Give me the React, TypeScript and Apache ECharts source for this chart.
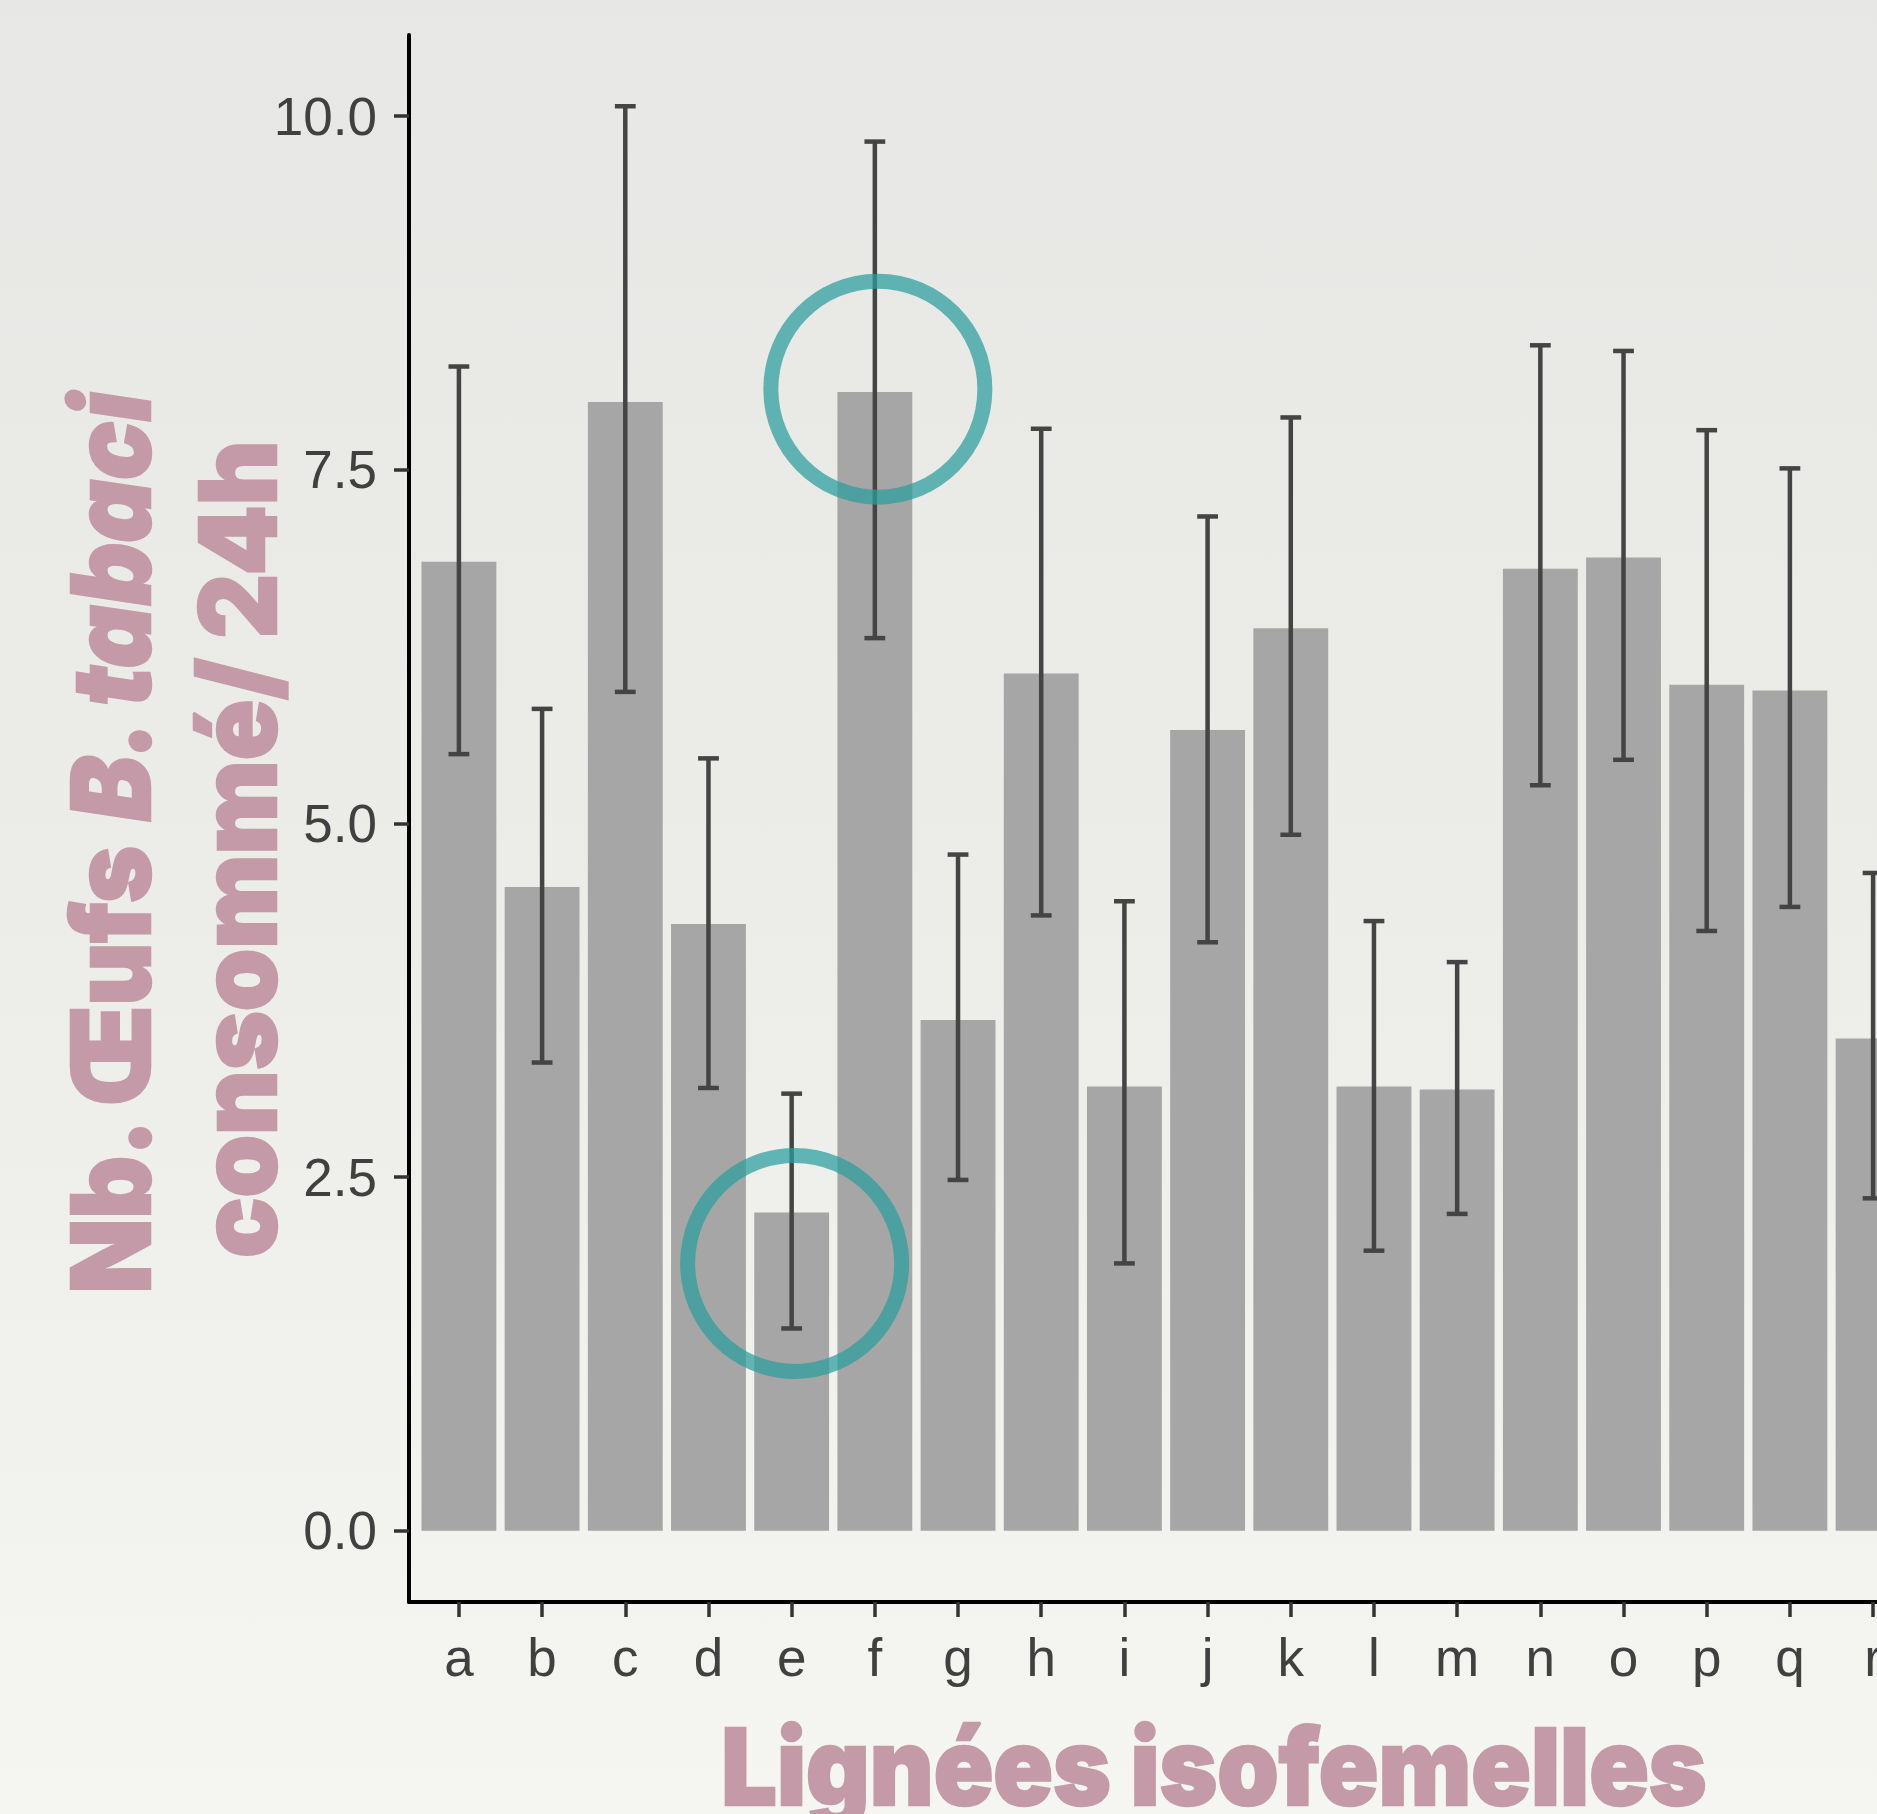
import React, { useEffect, useRef } from "react";
import * as echarts from "echarts";

// ---- data ----
const categories = ["a", "b", "c", "d", "e", "f", "g", "h", "i", "j", "k", "l", "m", "n", "o", "p", "q", "r"];
const means = [6.85, 4.55, 7.98, 4.29, 2.25, 8.05, 3.61, 6.06, 3.14, 5.66, 6.38, 3.14, 3.12, 6.8, 6.88, 5.98, 5.94, 3.48];
const upper = [8.23, 5.81, 10.07, 5.46, 3.09, 9.82, 4.78, 7.79, 4.45, 7.17, 7.87, 4.31, 4.02, 8.38, 8.34, 7.78, 7.51, 4.65];
const lower = [5.49, 3.31, 5.93, 3.13, 1.43, 6.31, 2.48, 4.35, 1.89, 4.16, 4.92, 1.98, 2.24, 5.27, 5.45, 4.24, 4.41, 2.35];
const yTicks = [0, 2.5, 5, 7.5, 10];
const annotatedCats = ["e", "f"];
const annotatedY = [1.89, 8.07];

const xTitle = "Lignées isofemelles";
const yTitleA = "Nb. Œufs ";
const yTitleB = "B. tabaci";
const yTitle2 = "consommé/ 24h";

const TITLE_COLOR = "#C49AA8";
const TITLE_FONT = "Inter, Roboto, 'DejaVu Sans', sans-serif";
const TICK_FONT = "'Liberation Sans', Arial, sans-serif";
const TITLE_STROKE = 2.5;

function measure(text: string, font: string): number {
  const c = document.createElement("canvas").getContext("2d");
  if (!c) return text.length * 50;
  c.font = font;
  const m = c.measureText(text);
  const g = (m.actualBoundingBoxLeft || 0) + (m.actualBoundingBoxRight || 0);
  return g > 0 ? g : m.width;
}
function advance(text: string, font: string): number {
  const c = document.createElement("canvas").getContext("2d");
  if (!c) return text.length * 50;
  c.font = font;
  return c.measureText(text).width;
}

export default function App() {
  const ref = useRef<HTMLDivElement>(null);

  useEffect(() => {
    if (!ref.current) return;
    const chart = echarts.init(ref.current, undefined, { renderer: "svg" });

    const n = categories.length;
    const yMaxData = Math.max(...upper);
    const pad = 0.05 * yMaxData;
    const BAR_W = 0.9;
    const CAP_W = 0.25;

    const barData = categories.map((_, i) => [i + 1, means[i]]);
    const errData = categories.map((_, i) => [i + 1, lower[i], upper[i]]);

    chart.setOption({
      animation: false,
      backgroundColor: new echarts.graphic.LinearGradient(0, 0, 0, 1, [
        { offset: 0, color: "#E7E7E5" },
        { offset: 0.5, color: "#ECECE9" },
        { offset: 1, color: "#F5F6F1" },
      ]),
      grid: { left: 409, top: 35, right: 37, bottom: 212, containLabel: false },
      xAxis: {
        type: "value",
        min: 0.4,
        max: n + 0.6,
        splitLine: { show: false },
        axisLine: { show: true, onZero: false, lineStyle: { color: "#000", width: 4 } },
        axisTick: {
          show: true,
          length: 15,
          customValues: categories.map((_, i) => i + 1),
          lineStyle: { color: "#333", width: 3.5 },
        },
        axisLabel: {
          show: true,
          customValues: categories.map((_, i) => i + 1),
          formatter: (v: number) => categories[Math.round(v) - 1] ?? "",
          fontSize: 53,
          fontFamily: TICK_FONT,
          color: "#404040",
          margin: 29,
        },
      },
      yAxis: {
        type: "value",
        min: -pad,
        max: yMaxData + pad,
        splitLine: { show: false },
        axisLine: { show: true, onZero: false, lineStyle: { color: "#000", width: 4 } },
        axisTick: {
          show: true,
          length: 15,
          customValues: yTicks,
          lineStyle: { color: "#333", width: 3.5 },
        },
        axisLabel: {
          show: true,
          customValues: yTicks,
          formatter: (v: number) => v.toFixed(1),
          fontSize: 53,
          fontFamily: TICK_FONT,
          color: "#404040",
          margin: 32,
        },
      },
      series: [
        {
          type: "custom",
          data: barData,
          clip: false,
          renderItem: (_p: any, api: any) => {
            const x = api.value(0);
            const v = api.value(1);
            const p0 = api.coord([x - BAR_W / 2, v]);
            const p1 = api.coord([x + BAR_W / 2, 0]);
            return {
              type: "rect",
              shape: { x: p0[0], y: p0[1], width: p1[0] - p0[0], height: p1[1] - p0[1] },
              style: { fill: "#A6A6A6" },
            };
          },
          z: 2,
        },
        {
          type: "custom",
          data: errData,
          clip: false,
          renderItem: (_p: any, api: any) => {
            const x = api.value(0);
            const lo = api.value(1);
            const hi = api.value(2);
            const pl = api.coord([x, lo]);
            const ph = api.coord([x, hi]);
            const half = api.coord([x + CAP_W / 2, lo])[0] - pl[0];
            const st = { stroke: "#444", lineWidth: 4.5 };
            return {
              type: "group",
              children: [
                { type: "line", shape: { x1: pl[0], y1: pl[1], x2: ph[0], y2: ph[1] }, style: st },
                { type: "line", shape: { x1: ph[0] - half, y1: ph[1], x2: ph[0] + half, y2: ph[1] }, style: st },
                { type: "line", shape: { x1: pl[0] - half, y1: pl[1], x2: pl[0] + half, y2: pl[1] }, style: st },
              ],
            };
          },
          z: 3,
        },
      ],
    });

    // annotation circles, placed through the axes
    const circles = annotatedCats.map((c, k) => {
      const idx = categories.indexOf(c) + 1;
      const p = chart.convertToPixel({ gridIndex: 0 }, [idx, annotatedY[k]]) as number[];
      return {
        type: "ellipse",
        shape: { cx: p[0] + 3, cy: p[1], rx: 107, ry: 108 },
        style: { fill: "none", stroke: "rgba(42,157,158,0.73)", lineWidth: 15 },
        z: 100,
      };
    });

    // titles (heavy condensed look via scaleX)
    const xSize = 106;
    const xFont = `900 ${xSize}px ${TITLE_FONT}`;
    const xScale = 982 / (measure(xTitle, xFont) + TITLE_STROKE);
    const y1Size = 108;
    const y1Font = `900 ${y1Size}px ${TITLE_FONT}`;
    const y1FontI = `italic 900 ${y1Size}px ${TITLE_FONT}`;
    const y1W = advance(yTitleA, y1Font) + advance(yTitleB, y1FontI);
    const y1Scale = 906 / y1W;
    const y2Size = 106;
    const y2Font = `900 ${y2Size}px ${TITLE_FONT}`;
    const y2Scale = 812 / (measure(yTitle2, y2Font) + TITLE_STROKE);

    const strokeStyle = { stroke: TITLE_COLOR, lineWidth: TITLE_STROKE, lineJoin: "round" };

    chart.setOption({
      graphic: [
        ...circles,
        {
          type: "text",
          x: 1214,
          y: 1803 - 0.34 * xSize,
          scaleX: xScale,
          z: 50,
          style: {
            text: xTitle,
            fill: TITLE_COLOR,
            font: xFont,
            align: "center",
            verticalAlign: "middle",
            ...strokeStyle,
          },
        },
        {
          type: "text",
          x: 147 - 0.34 * y1Size,
          y: 843,
          rotation: Math.PI / 2,
          scaleX: y1Scale,
          z: 50,
          style: {
            text: `{n|${yTitleA}}{i|${yTitleB}}`,
            align: "center",
            verticalAlign: "middle",
            rich: {
              n: { fill: TITLE_COLOR, fontSize: y1Size, fontWeight: 900, fontFamily: TITLE_FONT, ...strokeStyle },
              i: {
                fill: TITLE_COLOR,
                fontSize: y1Size,
                fontWeight: 900,
                fontStyle: "italic",
                fontFamily: TITLE_FONT,
                ...strokeStyle,
              },
            },
          },
        },
        {
          type: "text",
          x: 273 - 0.34 * y2Size,
          y: 849,
          rotation: Math.PI / 2,
          scaleX: y2Scale,
          z: 50,
          style: {
            text: yTitle2,
            fill: TITLE_COLOR,
            font: y2Font,
            align: "center",
            verticalAlign: "middle",
            ...strokeStyle,
          },
        },
      ],
    });

    return () => chart.dispose();
  }, []);

  return (
    <div
      style={{
        position: "fixed",
        left: 0,
        top: 0,
        width: 1877,
        height: 1814,
        overflow: "hidden",
        background: "#ECECE9",
      }}
    >
      <div ref={ref} style={{ width: 1960, height: 1814 }} />
    </div>
  );
}
